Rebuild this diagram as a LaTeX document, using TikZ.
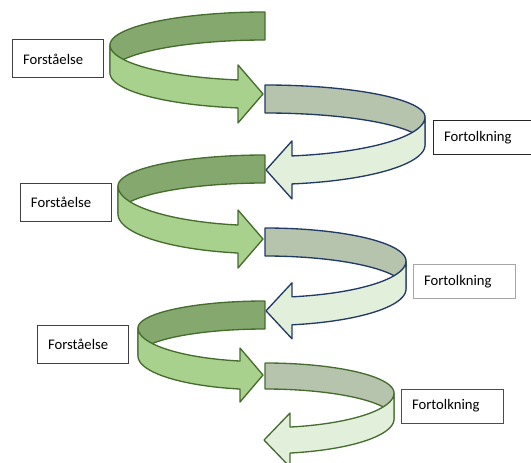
\documentclass[tikz,border=0pt]{standalone}
\usepackage{fontspec}
\setmainfont{Carlito}

\definecolor{gline}{HTML}{466D2E}
\definecolor{gback}{HTML}{85A86F}
\definecolor{gfront}{HTML}{A9D18E}
\definecolor{nline}{HTML}{223A66}
\definecolor{pback}{HTML}{B6C3AD}
\definecolor{pfront}{HTML}{E2EFDA}

\tikzset{
  rb/.style={samples=80, variable=\t},
  band/.style={line width=1pt, line join=round},
  lefttone/.style={
    backband/.style={band, draw=gline, fill=gback},
    frontband/.style={band, draw=gline, fill=gfront}},
  righttone/.style={
    backband/.style={band, draw=#1, fill=pback},
    frontband/.style={band, draw=#1, fill=pfront}},
  tagbox/.style={draw=#1, line width=0.75pt, fill=white, inner xsep=8.25pt,
    inner ysep=0pt, align=left, font=\fontsize{11}{13}\selectfont},
  ftag/.style={tagbox=#1, text width=51.75pt, minimum height=28.5pt},
  ttag/.style={tagbox=#1, text width=60pt, minimum height=25.5pt},
}

% A ribbon wound half way round an ellipse, ending in a block arrow.
% #1 cx, #2 cy, #3 x radius, #4 upper y radius, #5 lower y radius,
% #6 band height, #7 x of the arrow head base, #8 head wing, #9 x of the tip
\newcommand\ribbonturn[9]{%
  \pgfmathsetmacro\rbside{ifthenelse(#9>#7,180,0)}%
  \pgfmathsetmacro\rbang{acos((#7-(#1))/(#3))}%
  \pgfmathsetmacro\rbtop{#2+#5*sin(\rbang)}%
  \pgfmathsetmacro\rbbot{\rbtop+#6}%
  \pgfmathsetmacro\rbmid{\rbtop+#6/2}%
  \draw[backband]
    plot[rb, domain=-90:-\rbside] ({#1+#3*cos(\t)},{#2+#4*sin(\t)})
    -- plot[rb, domain=-\rbside:-90] ({#1+#3*cos(\t)},{#2+#6+#4*sin(\t)})
    -- cycle;
  \draw[frontband]
    plot[rb, domain=\rbside:\rbang] ({#1+#3*cos(\t)},{#2+#5*sin(\t)})
    -- (#7,{\rbtop-#8}) -- (#9,\rbmid) -- (#7,{\rbbot+#8})
    -- plot[rb, domain=\rbang:\rbside] ({#1+#3*cos(\t)},{#2+#6+#5*sin(\t)})
    -- cycle;
}

\begin{document}
\begin{tikzpicture}[x=0.75pt, y=-0.75pt]
\useasboundingbox (0,0) rectangle (531,463);
\clip (0,0) rectangle (531,463);

% first turn
\begin{scope}[lefttone]
  \ribbonturn{265}{45}{155}{33}{35.5}{28}{238}{15}{263}
\end{scope}
\begin{scope}[righttone=nline]
  \ribbonturn{265}{117}{160}{32}{39.5}{28}{292}{15}{266}
\end{scope}

% second turn
\begin{scope}[lefttone]
  \ribbonturn{265}{186}{147}{31}{39.7}{28}{238}{15}{263}
\end{scope}
\begin{scope}[righttone=nline]
  \ribbonturn{265}{261}{141}{33}{36.5}{28}{292}{14}{266}
\end{scope}

% third turn
\begin{scope}[lefttone]
  \ribbonturn{265}{328}{127}{27}{33.7}{28}{240}{13}{263}
\end{scope}
\begin{scope}[righttone=gline]
  \ribbonturn{265}{393}{129}{30}{34.7}{26}{290}{14}{264}
\end{scope}

% labels
\node[ftag={black!75}] (f1) at (57.5,59) {Forståelse};
\node[ftag={black!75}] (f2) at (65.5,202.5) {Forståelse};
\node[ftag={black!75}] (f3) at (82.5,344) {Forståelse};
\node[ttag={black!85}] (t1) at (484,138) {Fortolkning};
\node[ttag={black!35}] (t2) at (464,281.5) {Fortolkning};
\node[ttag={black!70}] (t3) at (452,406) {Fortolkning};
\end{tikzpicture}
\end{document}
